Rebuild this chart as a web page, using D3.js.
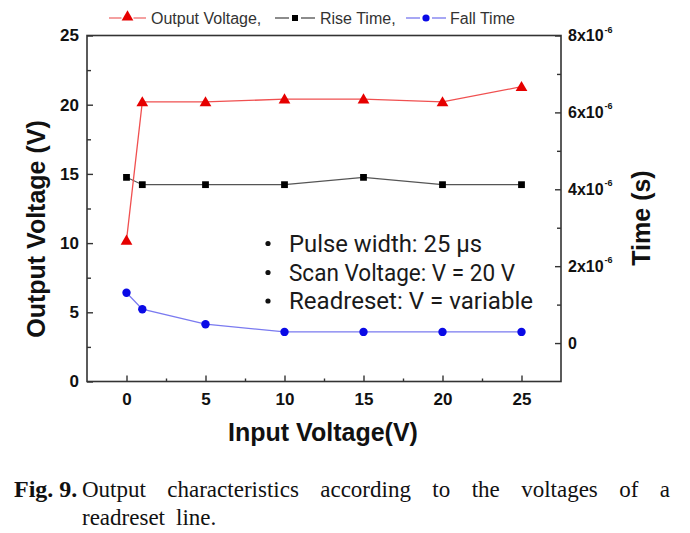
<!DOCTYPE html>
<html>
<head>
<meta charset="utf-8">
<script src="https://cdn.jsdelivr.net/npm/d3@7"></script>
<style>
  html, body { margin: 0; padding: 0; background: #ffffff; }
  svg { display: block; }
</style>
</head>
<body>
<svg id="chart" width="690" height="533"></svg>
<script>
// ---- data ----
const inputVoltage = [0, 1, 5, 10, 15, 20, 25];
const outputVoltage = [10.2, 20.2, 20.2, 20.4, 20.4, 20.2, 21.3];
const riseTime = [4.31e-6, 4.12e-6, 4.12e-6, 4.12e-6, 4.31e-6, 4.12e-6, 4.12e-6];
const fallTime = [1.31e-6, 0.88e-6, 0.49e-6, 0.29e-6, 0.29e-6, 0.29e-6, 0.29e-6];

const xTicks = [0, 5, 10, 15, 20, 25];
const xMinorTicks = [2.5, 7.5, 12.5, 17.5, 22.5];
const yLeftTicks = [0, 5, 10, 15, 20, 25];
const yLeftMinorTicks = [2.5, 7.5, 12.5, 17.5, 22.5];
const yRightTicks = [0, 2e-6, 4e-6, 6e-6, 8e-6];
const yRightMinorTicks = [1e-6, 3e-6, 5e-6, 7e-6];
const yRightTickLabels = ["0", "2x10|-6", "4x10|-6", "6x10|-6", "8x10|-6"];

const legendItems = ["Output Voltage,", "Rise Time,", "Fall Time"];
const noteLines = ["Pulse width: 25 \u00b5s", "Scan Voltage: V = 20 V", "Readreset: V = variable"];
const captionLabel = "Fig. 9.";
const captionLine1 = ["Output", "characteristics", "according", "to", "the", "voltages", "of", "a"];
const captionLine2 = ["readreset", "line."];

// ---- layout ----
const L = 87, R = 561, T = 35.5, B = 381.5;
const svg = d3.select("#chart");

const x = d3.scaleLinear([-2.5, 27.5], [L, R]);
const yL = d3.scaleLinear([0, 25], [B, T]);
const yR = d3.scaleLinear([-1e-6, 8e-6], [B, T]);

const axisColor = "#333";
const tickFont = "'Liberation Sans', Arial, sans-serif";

// frame
svg.append("rect").attr("x", L).attr("y", T).attr("width", R - L).attr("height", B - T)
  .attr("fill", "none").attr("stroke", axisColor).attr("stroke-width", 1.6);

function styleAxis(g) {
  g.select(".domain").remove();
  g.selectAll(".tick line").attr("stroke", axisColor).attr("stroke-width", 1.4);
  g.selectAll("text").attr("fill", "#111").attr("font-family", tickFont)
    .attr("font-weight", "bold").attr("font-size", 17);
}

// bottom axis
svg.append("g").attr("transform", `translate(0,${B})`)
  .call(d3.axisBottom(x).tickValues(xTicks).tickSizeInner(-6).tickSizeOuter(0).tickPadding(11))
  .call(styleAxis);
svg.append("g").attr("transform", `translate(0,${B})`)
  .call(d3.axisBottom(x).tickValues(xMinorTicks).tickSizeInner(-3).tickSizeOuter(0).tickFormat(""))
  .call(styleAxis);

// left axis
svg.append("g").attr("transform", `translate(${L},0)`)
  .call(d3.axisLeft(yL).tickValues(yLeftTicks).tickSizeInner(-6).tickSizeOuter(0).tickPadding(8))
  .call(styleAxis);
svg.append("g").attr("transform", `translate(${L},0)`)
  .call(d3.axisLeft(yL).tickValues(yLeftMinorTicks).tickSizeInner(-4).tickSizeOuter(0).tickFormat(""))
  .call(styleAxis);

// right axis
svg.append("g").attr("transform", `translate(${R},0)`)
  .call(d3.axisRight(yR).tickValues(yRightTicks).tickSizeInner(-6).tickSizeOuter(0).tickFormat(""))
  .call(styleAxis);
svg.append("g").attr("transform", `translate(${R},0)`)
  .call(d3.axisRight(yR).tickValues(yRightMinorTicks).tickSizeInner(-4).tickSizeOuter(0).tickFormat(""))
  .call(styleAxis);

const rLabels = svg.append("g");
yRightTicks.forEach((v, i) => {
  const parts = yRightTickLabels[i].split("|");
  const t = rLabels.append("text")
    .attr("x", R + 7).attr("y", yR(v)).attr("dy", "0.35em")
    .attr("font-family", tickFont).attr("font-weight", "bold").attr("font-size", 16)
    .attr("fill", "#111");
  t.append("tspan").text(parts[0]);
  if (parts[1]) {
    t.append("tspan").attr("font-size", 9).attr("dy", "-0.95em").attr("dx", 1).text(parts[1]);
  }
});

// axis titles
svg.append("text").attr("x", 323).attr("y", 441).attr("text-anchor", "middle")
  .attr("font-family", tickFont).attr("font-weight", "bold").attr("font-size", 25).attr("fill", "#111")
  .text("Input Voltage(V)");
svg.append("text").attr("transform", "translate(45,229) rotate(-90)").attr("text-anchor", "middle")
  .attr("font-family", tickFont).attr("font-weight", "bold").attr("font-size", 25).attr("fill", "#111")
  .text("Output Voltage (V)");
svg.append("text").attr("transform", "translate(650,218) rotate(-90)").attr("text-anchor", "middle")
  .attr("font-family", tickFont).attr("font-weight", "bold").attr("font-size", 25).attr("fill", "#111")
  .text("Time (s)");

// ---- series ----
const red = "#e60000", redLine = "#f05050";
const blk = "#000000", blkLine = "#555555";
const blue = "#0a0ae6", blueLine = "#7a7af0";

const tri = d3.symbol().type(d3.symbolTriangle).size(60);
const sq = d3.symbol().type(d3.symbolSquare).size(46);

const ptsOut = inputVoltage.map((v, i) => [x(v), yL(outputVoltage[i])]);
const ptsRise = inputVoltage.map((v, i) => [x(v), yR(riseTime[i])]);
const ptsFall = inputVoltage.map((v, i) => [x(v), yR(fallTime[i])]);
const line = d3.line();

svg.append("path").attr("d", line(ptsRise)).attr("fill", "none").attr("stroke", blkLine).attr("stroke-width", 1.1);
svg.append("path").attr("d", line(ptsFall)).attr("fill", "none").attr("stroke", blueLine).attr("stroke-width", 1.3);
svg.append("path").attr("d", line(ptsOut)).attr("fill", "none").attr("stroke", redLine).attr("stroke-width", 1.3);

svg.append("g").selectAll("path").data(ptsRise).join("path")
  .attr("transform", d => `translate(${d[0]},${d[1]})`).attr("d", sq).attr("fill", blk);
svg.append("g").selectAll("circle").data(ptsFall).join("circle")
  .attr("cx", d => d[0]).attr("cy", d => d[1]).attr("r", 4.2).attr("fill", blue);
svg.append("g").selectAll("path").data(ptsOut).join("path")
  .attr("transform", d => `translate(${d[0]},${d[1] + 1})`).attr("d", tri).attr("fill", red);

// ---- legend ----
const legY = 18;
const legFont = 16;
const lg = svg.append("g");
const legSpecs = [
  { x0: 109, x1: 146, mk: "tri", c: red, lc: "#f08080", tx: 151 },
  { x0: 275, x1: 315, mk: "sq", c: blk, lc: "#666", tx: 320 },
  { x0: 406, x1: 446, mk: "dot", c: blue, lc: "#8a8af0", tx: 450 }
];
legSpecs.forEach((s, i) => {
  const mx = (s.x0 + s.x1) / 2;
  lg.append("line").attr("x1", s.x0).attr("x2", mx - 6).attr("y1", legY).attr("y2", legY).attr("stroke", s.lc).attr("stroke-width", 1.5);
  lg.append("line").attr("x1", mx + 6).attr("x2", s.x1).attr("y1", legY).attr("y2", legY).attr("stroke", s.lc).attr("stroke-width", 1.5);
  if (s.mk === "tri") lg.append("path").attr("d", tri).attr("transform", `translate(${mx},${legY - 1})`).attr("fill", s.c);
  if (s.mk === "sq") lg.append("path").attr("d", d3.symbol().type(d3.symbolSquare).size(36)).attr("transform", `translate(${mx},${legY})`).attr("fill", s.c);
  if (s.mk === "dot") lg.append("circle").attr("cx", mx).attr("cy", legY).attr("r", 3.6).attr("fill", s.c);
  lg.append("text").attr("x", s.tx).attr("y", legY + 6).attr("font-family", tickFont)
    .attr("font-size", legFont).attr("fill", "#333").text(legendItems[i]);
});

// ---- annotation ----
const noteBase = [251.5, 280.5, 309];
const noteWidth = [193, 226, 244];
const ng = svg.append("g");
noteLines.forEach((t, i) => {
  ng.append("circle").attr("cx", 268).attr("cy", noteBase[i] - 8).attr("r", 2.6).attr("fill", "#111");
  ng.append("text").attr("x", 289).attr("y", noteBase[i])
    .attr("font-family", "Roboto, 'Noto Sans', sans-serif").attr("font-size", 23.5).attr("fill", "#1a1a1a")
    .attr("textLength", noteWidth[i]).attr("lengthAdjust", "spacingAndGlyphs")
    .text(t);
});

// ---- caption (justified first line) ----
const serif = "'Liberation Serif', 'Times New Roman', serif";
const capSize = 23;
const capG = svg.append("g");
capG.append("text").attr("x", 14).attr("y", 497).attr("font-family", serif).attr("font-weight", "bold")
  .attr("font-size", capSize + 1).attr("fill", "#111").text(captionLabel);

const startX = 82, endX = 670;
const words1 = captionLine1.map(w => capG.append("text").attr("y", 497).attr("font-family", serif)
  .attr("font-size", capSize).attr("fill", "#111").text(w));
const widths1 = words1.map(t => t.node().getComputedTextLength());
const gap1 = (endX - startX - d3.sum(widths1)) / (captionLine1.length - 1);
let cx = startX;
words1.forEach((t, i) => { t.attr("x", cx); cx += widths1[i] + gap1; });

let cx2 = startX;
captionLine2.forEach(w => {
  const t = capG.append("text").attr("x", cx2).attr("y", 525).attr("font-family", serif)
    .attr("font-size", capSize).attr("fill", "#111").text(w);
  cx2 += t.node().getComputedTextLength() + 11;
});
</script>
</body>
</html>
